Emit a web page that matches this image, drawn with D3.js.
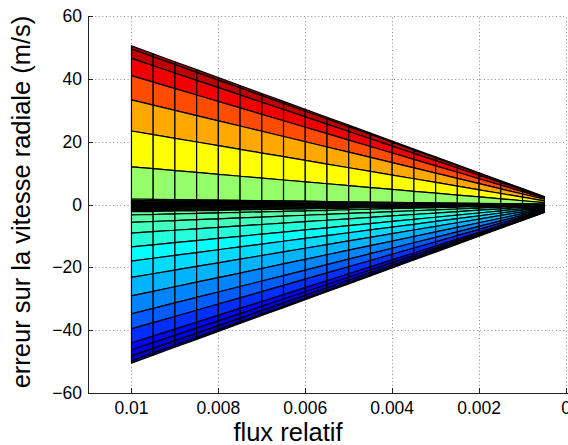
<!DOCTYPE html>
<html><head><meta charset="utf-8">
<script src="https://cdn.jsdelivr.net/npm/d3@7"></script>
<style>html,body{margin:0;padding:0;background:#fff;}svg{display:block;}</style>
</head><body>
<svg id="c" width="568" height="445"></svg>
<script>
// ---- data ----
const fluxColumns = [0.01,0.0095,0.009,0.0085,0.008,0.0075,0.007,0.0065,0.006,0.0055,0.005,0.0045,0.004,0.0035,0.003,0.0025,0.002,0.0015,0.001,0.0005];
const refFlux = 0.01;
// mesh row edges: error (m/s) at flux = 0.01, top to bottom
const rowEdges = [50.5,49.5,46.5,41.0,33.3,23.4,12.0,1.75,
                  1.3,0.9,0.5,0.15,-0.2,-0.55,-0.9,-1.25,-1.6,-1.95,-2.3,
                  -3.35,-5.7,-9.1,-13.5,-18.0,-23.2,-29.1,-34.8,-39.6,-44.1,-46.3,-48.2,-49.8,-50.5];
// colour level (jet colormap position) of each row, top to bottom
const rowLevels = [0.97,0.94,0.89,0.80,0.71,0.625,0.52,
                   0.51,0.51,0.505,0.50,0.50,0.50,0.495,0.49,0.49,0.485,0.485,
                   0.475,0.46,0.44,0.41,0.375,0.34,0.30,0.255,0.215,0.17,0.13,0.10,0.06,0.03];
const xTicks = [0.01,0.008,0.006,0.004,0.002,0];
const xTickLabels = ["0.01","0.008","0.006","0.004","0.002","0"];
const yTicks = [-60,-40,-20,0,20,40,60];
const yTickLabels = ["\u221260","\u221240","\u221220","0","20","40","60"];
const xTitle = "flux relatif";
const yTitle = "erreur sur la vitesse radiale (m/s)";

// ---- drawing ----
const svg = d3.select("#c");
const font = "'Liberation Sans', Arial, Helvetica, sans-serif";
const x = d3.scaleLinear().domain([0.011, 0]).range([88, 566]);
const y = d3.scaleLinear().domain([-60, 60]).range([393, 16]);
const jet = d3.scaleLinear()
  .domain([0, 1/8, 3/8, 5/8, 7/8, 1])
  .range(["#000080","#0000ff","#00ffff","#ffff00","#ff0000","#800000"])
  .interpolate(d3.interpolateRgb);

// grid
const grid = svg.append("g").attr("stroke", "#8a8a8a").attr("stroke-width", 1)
  .attr("stroke-dasharray", "1 2.6");
xTicks.forEach(t => grid.append("line")
  .attr("x1", Math.round(x(t)) + 0.5).attr("x2", Math.round(x(t)) + 0.5)
  .attr("y1", y(-60)).attr("y2", y(60)));
yTicks.forEach(t => grid.append("line")
  .attr("x1", x(0.011)).attr("x2", x(0))
  .attr("y1", Math.round(y(t)) + 0.5).attr("y2", Math.round(y(t)) + 0.5));

// surface mesh
const errAt = (edge, f) => edge * f / refFlux;
const cells = [];
for (let j = 0; j < rowEdges.length - 1; j++) {
  for (let i = 0; i < fluxColumns.length - 1; i++) {
    const f0 = fluxColumns[i], f1 = fluxColumns[i + 1];
    cells.push({
      pts: [[f0, errAt(rowEdges[j], f0)], [f1, errAt(rowEdges[j], f1)],
            [f1, errAt(rowEdges[j + 1], f1)], [f0, errAt(rowEdges[j + 1], f0)]],
      level: rowLevels[j]
    });
  }
}
const line = d3.line().x(d => x(d[0])).y(d => y(d[1]));
svg.append("g").selectAll("path").data(cells).join("path")
  .attr("d", d => line(d.pts) + "Z")
  .attr("fill", d => jet(d.level))
  .attr("stroke", "#000")
  .attr("stroke-width", 1.2)
  .attr("stroke-linejoin", "round");

// axes
const ax = svg.append("g").attr("stroke", "#222").attr("stroke-width", 1);
ax.append("line").attr("x1", 88.5).attr("x2", 88.5).attr("y1", y(60)).attr("y2", y(-60) + 0.5);
ax.append("line").attr("x1", 88).attr("x2", 568).attr("y1", Math.round(y(-60)) + 0.5).attr("y2", Math.round(y(-60)) + 0.5);
xTicks.forEach(t => ax.append("line")
  .attr("x1", Math.round(x(t)) + 0.5).attr("x2", Math.round(x(t)) + 0.5)
  .attr("y1", y(-60)).attr("y2", y(-60) - 5));
yTicks.forEach(t => ax.append("line")
  .attr("x1", 88).attr("x2", 93)
  .attr("y1", Math.round(y(t)) + 0.5).attr("y2", Math.round(y(t)) + 0.5));

// tick labels
const lab = svg.append("g").attr("font-family", font).attr("font-size", 17.5).attr("fill", "#000");
xTicks.forEach((t, k) => lab.append("text")
  .attr("x", x(t)).attr("y", 414).attr("text-anchor", "middle").text(xTickLabels[k]));
yTicks.forEach((t, k) => lab.append("text")
  .attr("x", 82).attr("y", y(t) + 6).attr("text-anchor", "end").text(yTickLabels[k]));

// titles
svg.append("text").attr("font-family", font).attr("font-size", 25.5)
  .attr("x", 288).attr("y", 441).attr("text-anchor", "middle").text(xTitle);
svg.append("text").attr("font-family", font).attr("font-size", 25.5)
  .attr("transform", "translate(30,202) rotate(-90)")
  .attr("text-anchor", "middle").text(yTitle);
</script>
</body></html>
